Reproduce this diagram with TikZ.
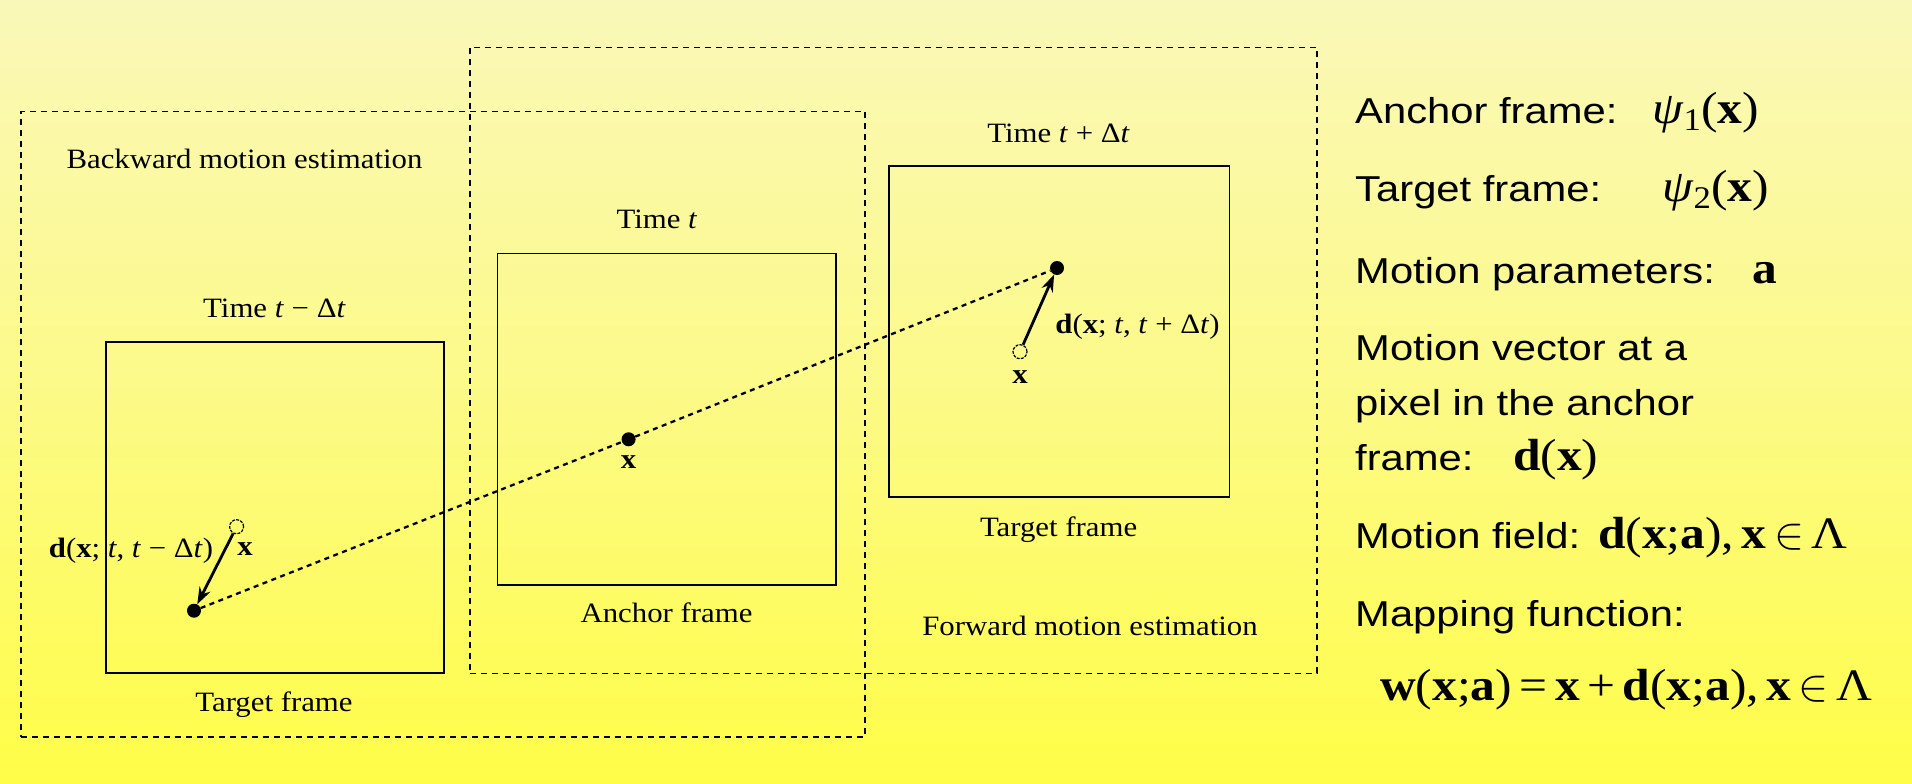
\RequirePackage{fix-cm}
\documentclass[tikz,border=0pt]{standalone}
\usepackage{fontspec}
\usetikzlibrary{arrows.meta}
\newfontfamily\serifl[FakeStretch=1.1]{Liberation Serif}
\newfontfamily\sansl[FakeStretch=1.16]{Liberation Sans}
\definecolor{bgtop}{RGB}{250,248,185}
\definecolor{bgmid}{RGB}{252,250,135}
\definecolor{bgbot}{RGB}{255,253,70}
\begin{document}
\begin{tikzpicture}[x=1pt,y=-1pt,
  lab/.style={font=\serifl\fontsize{28}{34}\selectfont, inner sep=0, anchor=base},
  rl/.style={font=\sansl\fontsize{36}{43}\selectfont, inner sep=0, anchor=base west},
  rm/.style={font=\serifl\fontsize{45}{53}\selectfont, inner sep=0, anchor=base west},
  frame/.style={draw, line width=1.6, rectangle, inner sep=0},
  dbox/.style={draw, line width=1.3, dash pattern=on 6 off 5, rectangle, inner sep=0},
  dot/.style={circle, fill=black, inner sep=0, minimum size=14},
  ocirc/.style={circle, draw, line width=1.2, dash pattern=on 3 off 1.2, inner sep=0, minimum size=14},
  traj/.style={line width=2.3, dash pattern=on 5 off 4.5},
  vec/.style={line width=2.8, -{Stealth[length=17,width=12]}}]
\useasboundingbox (0,0) rectangle (1912,784);
\fill[top color=bgtop, bottom color=bgbot, middle color=bgmid] (0,0) rectangle (1912,784);

% dashed estimation boxes
\node[dbox, minimum width=844, minimum height=625.5] (bwbox) at (443,424.25) {};
\node[dbox, minimum width=847, minimum height=626] (fwbox) at (893.5,360.3) {};

% frames
\node[frame, minimum width=338, minimum height=331] (lf) at (275,507.5) {};
\node[frame, minimum width=338.5, minimum height=331.5] (mf) at (666.75,419.25) {};
\node[frame, minimum width=340.6, minimum height=331] (rf) at (1059.3,331.2) {};

% labels
\node[lab] (bwl) at (244.5,168) {Backward motion estimation};
\node[lab] (tl) at (274.5,317) {Time \textit{t} − Δ\textit{t}};
\node[lab] (tgl) at (274,711) {Target frame};
\node[lab] (tm) at (657,228) {Time \textit{t}};
\node[lab] (anl) at (666.5,622) {Anchor frame};
\node[lab] (tr) at (1058.6,142) {Time \textit{t} + Δ\textit{t}};
\node[lab] (tgr) at (1058.6,536) {Target frame};
\node[lab] (fwl) at (1090,635) {Forward motion estimation};
\node[lab] (dl) at (131,557) {\textbf{d}(\textbf{x}; \textit{t}, \textit{t} − Δ\textit{t})};
\node[lab] (dr) at (1137.5,333) {\textbf{d}(\textbf{x}; \textit{t}, \textit{t} + Δ\textit{t})};
\node[lab] (xl) at (245,555) {\textbf{x}};
\node[lab] (xm) at (628.6,468) {\textbf{x}};
\node[lab] (xr) at (1020,383) {\textbf{x}};

% points
\node[dot] (ld) at (194,610.7) {};
\node[dot] (md) at (628.6,439.3) {};
\node[dot] (rd) at (1057,268) {};
\node[ocirc] (lo) at (236.6,526.7) {};
\node[ocirc] (ro) at (1020,351.7) {};

\draw[traj] (ld) -- (md) -- (rd);
\draw[vec] (lo) -- (ld);
\draw[vec] (ro) -- (rd);

% right-hand text
\node[rl] (r1) at (1355,123.3) {Anchor frame:};
\node[rm] (m1) at (1652,123.3) {\textit{ψ}\textsubscript{1}(\textbf{x})};
\node[rl] (r2) at (1355,201.7) {Target frame:};
\node[rm] (m2) at (1662,201.7) {\textit{ψ}\textsubscript{2}(\textbf{x})};
\node[rl] (r3) at (1355,283.3) {Motion parameters:};
\node[rm] (m3) at (1752,283.3) {\textbf{a}};
\node[rl] (r4) at (1355,360) {Motion vector at a};
\node[rl] (r5) at (1355,415) {pixel in the anchor};
\node[rl] (r6) at (1355,470) {frame:};
\node[rm] (m6) at (1513,470) {\textbf{d}(\textbf{x})};
\node[rl] (r7) at (1355,548.3) {Motion field:};
\node[rm] (m7) at (1598,548.3) {\textbf{d}(\textbf{x};\textbf{a}),\,\textbf{x}\,$\in$\,Λ};
\node[rl] (r8) at (1355,626.7) {Mapping function:};
\node[rm] (m8) at (1380,700) {\textbf{w}(\textbf{x};\textbf{a})\,=\,\textbf{x}\,+\,\textbf{d}(\textbf{x};\textbf{a}),\,\textbf{x}\,$\in$\,Λ};
\end{tikzpicture}
\end{document}
